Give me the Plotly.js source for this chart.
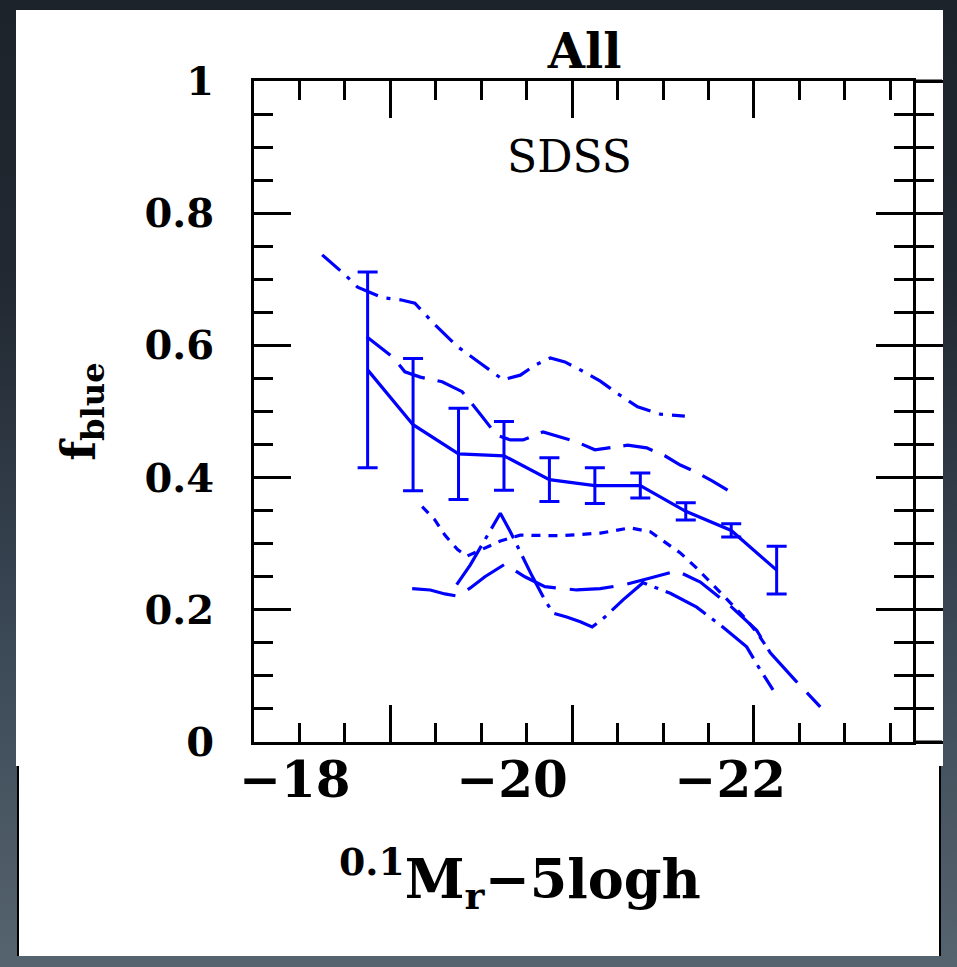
<!DOCTYPE html>
<html>
<head>
<meta charset="utf-8">
<script src="https://cdn.plot.ly/plotly-3.0.1.min.js"></script>
<style>
  html, body { margin:0; padding:0; width:957px; height:967px; overflow:hidden;
    background: linear-gradient(to bottom, #1d232b 0%, #222932 30%, #3a4755 65%, #56646f 100%); }
  #panelTop { position:absolute; left:16px; top:10px; width:927px; height:756px; background:#fff; }
  #panelBottom { position:absolute; left:17px; top:766px; width:920px; height:190px; background:#fff;
    border-left:2px solid #000; border-right:2px solid #000; }
  #chart { position:absolute; left:0; top:0; width:957px; height:967px; }
</style>
</head>
<body>
<div id="panelTop"></div>
<div id="panelBottom"></div>
<div id="chart"></div>
<script>
// ---- SDSS measurement with error bars (solid) ----
const sdssMag  = [-17.75, -18.25, -18.75, -19.25, -19.75, -20.25, -20.75, -21.25, -21.75, -22.25];
const sdssFrac = [0.563, 0.480, 0.436, 0.433, 0.397, 0.388, 0.388, 0.349, 0.320, 0.260];
const sdssErr  = [0.148, 0.100, 0.069, 0.052, 0.033, 0.027, 0.019, 0.013, 0.010, 0.036];

// ---- top dash-dot curve ----
const magA  = [-17.25, -17.50, -17.64, -17.92, -18.11, -18.27, -18.47, -18.74, -18.99, -19.24,
               -19.43, -19.59, -19.76, -19.92, -20.09, -20.31, -20.49, -20.72, -20.97, -21.24];
const fracA = [0.737, 0.707, 0.688, 0.672, 0.669, 0.664, 0.634, 0.598, 0.573, 0.548,
               0.555, 0.570, 0.581, 0.575, 0.563, 0.546, 0.528, 0.507, 0.496, 0.493];

// ---- upper long-dash curve ----
const magB  = [-17.74, -18.03, -18.16, -18.33, -18.57, -18.79, -18.99, -19.17, -19.32, -19.46, -19.68,
               -19.87, -20.05, -20.25, -20.44, -20.61, -20.82, -21.02, -21.19, -21.35, -21.54, -21.71];
const fracB = [0.613, 0.582, 0.560, 0.552, 0.545, 0.530, 0.496, 0.464, 0.457, 0.457, 0.469,
               0.461, 0.454, 0.442, 0.446, 0.449, 0.445, 0.433, 0.419, 0.409, 0.395, 0.381];

// ---- short-dash curve ----
const magD  = [-18.35, -18.49, -18.60, -18.74, -18.84, -19.04, -19.21, -19.43, -19.87, -20.31,
               -20.64, -20.86, -21.02, -21.19, -21.37, -21.63, -21.90, -22.03, -22.14];
const fracD = [0.356, 0.336, 0.313, 0.291, 0.281, 0.294, 0.304, 0.313, 0.312, 0.316,
               0.324, 0.318, 0.303, 0.286, 0.263, 0.227, 0.188, 0.166, 0.144];

// ---- lower long-dash curve ----
const magE  = [-18.24, -18.44, -18.60, -18.73, -18.88, -19.04, -19.26, -19.48, -19.70, -20.05,
               -20.31, -20.58, -20.86, -21.15, -21.41, -21.74, -22.03, -22.18, -22.45, -22.73];
const fracE = [0.232, 0.230, 0.224, 0.221, 0.233, 0.250, 0.269, 0.250, 0.235, 0.230,
               0.232, 0.238, 0.248, 0.259, 0.242, 0.206, 0.169, 0.135, 0.094, 0.053];

// ---- peaked long-dash-dot curve ----
const magF  = [-18.73, -18.88, -18.99, -19.10, -19.21, -19.32, -19.43, -19.56, -19.70, -19.79, -19.94,
               -20.09, -20.22, -20.36, -20.56, -20.78, -21.08, -21.37, -21.63, -21.92, -22.07, -22.21];
const fracF = [0.238, 0.268, 0.294, 0.321, 0.346, 0.318, 0.287, 0.251, 0.215, 0.195, 0.189,
               0.182, 0.174, 0.189, 0.215, 0.241, 0.225, 0.204, 0.177, 0.144, 0.109, 0.079];

// ---- axis ticks / labels ----
const xRange = [-16.5, -23.75];
const yRange = [0, 1];
const xLabelPos  = [-16.95, -19.34, -21.74];
const xLabelText = ['\u221218', '\u221220', '\u221222'];
const yLabelPos  = [0, 0.2, 0.4, 0.6, 0.8, 1];
const yLabelText = ['0', '0.2', '0.4', '0.6', '0.8', '1'];

const BLUE = '#0000ff';
const FONT = 'DejaVu Serif';

function curve(x, y, dash) {
  return { x: x, y: y, type: 'scatter', mode: 'lines',
           line: { color: BLUE, width: 3.2, dash: dash }, hoverinfo: 'skip', showlegend: false };
}
// empty traces that only register the overlay axes (labels / outer ticks)
function axisHolder(xa, ya) {
  return { x: [], y: [], type: 'scatter', mode: 'lines', xaxis: xa, yaxis: ya,
           hoverinfo: 'skip', showlegend: false };
}

const traces = [
  curve(magA, fracA, '24px,9px,4px,9px'),
  curve(magB, fracB, '30px,13px'),
  curve(magD, fracD, '9px,8px'),
  curve(magE, fracE, '44px,14px'),
  curve(magF, fracF, '46px,8px,4px,8px'),
  { x: sdssMag, y: sdssFrac, type: 'scatter', mode: 'lines',
    line: { color: BLUE, width: 3.2 },
    error_y: { type: 'data', array: sdssErr, visible: true, color: BLUE, thickness: 3, width: 10 },
    hoverinfo: 'skip', showlegend: false },
  axisHolder('x2', 'y'),
  axisHolder('x', 'y2'),
  axisHolder('x', 'y3')
];

const tickStyle = { tickcolor: '#000', tickwidth: 3 };

const layout = {
  width: 957, height: 967,
  margin: { l: 254, r: 44, t: 81, b: 225, pad: 0 },
  paper_bgcolor: 'rgba(0,0,0,0)',
  plot_bgcolor: 'rgba(0,0,0,0)',
  showlegend: false,
  hovermode: false,
  title: { text: 'All', x: 0.611, xanchor: 'center', y: 0.947, yanchor: 'middle',
           font: { family: FONT, size: 48, weight: 'bold', color: '#000' } },
  xaxis: Object.assign({
    range: xRange, showline: true, linewidth: 3, linecolor: '#000', mirror: 'ticks',
    ticks: 'inside', ticklen: 37, tick0: -18, dtick: 2, showticklabels: false,
    showgrid: false, zeroline: false,
    minor: { dtick: 0.5, ticks: 'inside', ticklen: 19, tickwidth: 3, tickcolor: '#000', showgrid: false }
  }, tickStyle),
  xaxis2: {
    overlaying: 'x', anchor: 'y', side: 'bottom', range: xRange,
    tickmode: 'array', tickvals: xLabelPos, ticktext: xLabelText,
    ticks: '', showline: false, showgrid: false, zeroline: false, ticklabelstandoff: 4,
    tickfont: { family: FONT, size: 50, weight: 'bold', color: '#000' }
  },
  yaxis: Object.assign({
    range: yRange, showline: true, linewidth: 3, linecolor: '#000', mirror: 'ticks',
    ticks: 'inside', ticklen: 37, tick0: 0, dtick: 0.2, showticklabels: false,
    showgrid: false, zeroline: false,
    minor: { dtick: 0.05, ticks: 'inside', ticklen: 19, tickwidth: 3, tickcolor: '#000', showgrid: false }
  }, tickStyle),
  yaxis2: Object.assign({
    overlaying: 'y', anchor: 'x', side: 'right', range: yRange,
    ticks: 'outside', ticklen: 29, tick0: 0, dtick: 0.2, showticklabels: false,
    showline: false, showgrid: false, zeroline: false,
    minor: { dtick: 0.05, ticks: 'outside', ticklen: 20, tickwidth: 3, tickcolor: '#000', showgrid: false }
  }, tickStyle),
  yaxis3: {
    overlaying: 'y', anchor: 'x', side: 'left', range: yRange,
    tickmode: 'array', tickvals: yLabelPos, ticktext: yLabelText,
    ticks: '', showline: false, showgrid: false, zeroline: false, ticklabelstandoff: 39,
    tickfont: { family: FONT, size: 40, weight: 'bold', color: '#000' },
    title: { text: 'f<sub>blue</sub>', standoff: 34,
             font: { family: FONT, size: 46, weight: 'bold', color: '#000' } }
  },
  shapes: [
    { type: 'line', xref: 'paper', yref: 'paper', x0: 1, x1: 1.044, y0: 1, y1: 1,
      line: { color: '#000', width: 3 } },
    { type: 'line', xref: 'paper', yref: 'paper', x0: 1, x1: 1.044, y0: 0, y1: 0,
      line: { color: '#000', width: 3 } }
  ],
  annotations: [
    { text: 'SDSS', xref: 'paper', yref: 'paper', x: 0.4795, y: 0.8865,
      xanchor: 'center', yanchor: 'middle', showarrow: false,
      font: { family: FONT, size: 44, color: '#000' } },
    { text: '<sup>0.1</sup>M<sub>r</sub>\u22125logh', xref: 'paper', yref: 'paper',
      x: 0.4036, y: -0.207, xanchor: 'center', yanchor: 'middle', showarrow: false,
      font: { family: FONT, size: 54, weight: 'bold', color: '#000' } }
  ]
};

Plotly.newPlot('chart', traces, layout, { displayModeBar: false, staticPlot: true });
</script>
</body>
</html>
